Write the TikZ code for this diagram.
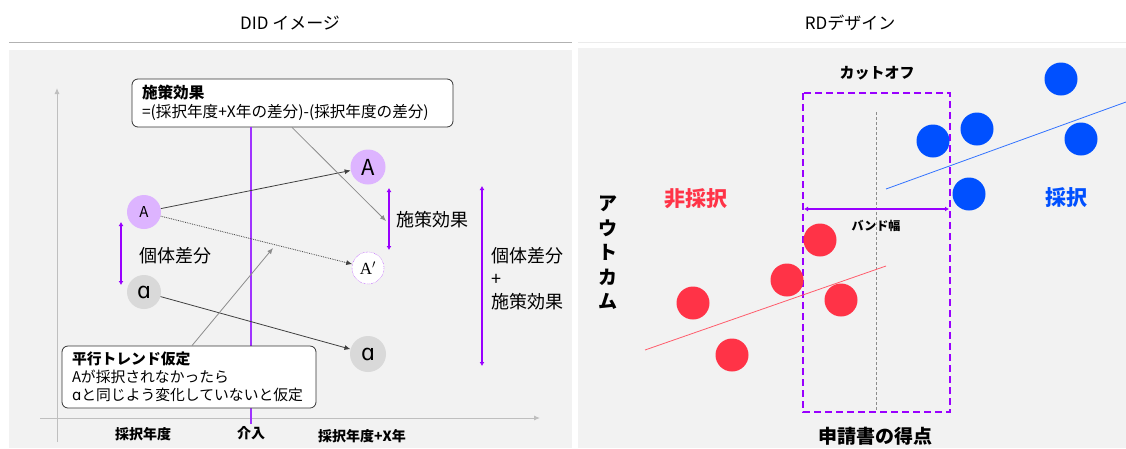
\documentclass[tikz,border=0pt]{standalone}
\usepackage{fontspec}
\setmainfont{Noto Sans CJK JP}
\newfontfamily\serifA{Liberation Serif}
\newfontfamily\dvs{DejaVu Sans}
\usetikzlibrary{arrows.meta}
\definecolor{panelbg}{HTML}{F2F2F2}
\definecolor{lpurple}{HTML}{DDB4FF}
\definecolor{vpurple}{HTML}{9900FF}
\definecolor{ipurple}{HTML}{A033FF}
\definecolor{ngray}{HTML}{D9D9D9}
\definecolor{axgray}{HTML}{BFBFBF}
\definecolor{dotblue}{HTML}{0050FF}
\definecolor{dotred}{HTML}{FF3347}
\newcommand\fsz[2]{\fontsize{#1}{#2}\selectfont}
\newcommand\alp{{\dvs ɑ}}
\tikzset{
  pnode/.style={circle,fill=lpurple,minimum size=34,inner sep=0},
  gnode/.style={circle,fill=ngray,minimum size=34,inner sep=0},
  wnode/.style={circle,fill=white,draw=vpurple,densely dotted,minimum size=32,inner sep=0},
  callout/.style={draw=black!80,rounded corners=6,fill=white,align=left,inner sep=0,line width=0.8},
  conn/.style={draw=black!75,line width=0.8,-{Latex[length=6,width=5]}},
  gconn/.style={draw=black!45,line width=0.8,-{Latex[length=6,width=5]}},
  bracket/.style={draw=vpurple,line width=2.8,{Latex[length=4,width=5]}-{Latex[length=4,width=5]}},
  axis/.style={draw=axgray,line width=1,-{Latex[length=6,width=5]}},
  bdot/.style={circle,fill=dotblue,minimum size=33,inner sep=0},
  rdot/.style={circle,fill=dotred,minimum size=33,inner sep=0},
  lbl/.style={inner sep=0,font=\fsz{18}{22}},
  axlbl/.style={inner sep=0,font=\bfseries\fsz{14}{16}}
}
\begin{document}
\begin{tikzpicture}[x=1pt,y=-1pt]
\useasboundingbox (0,0) rectangle (1126,448);
\fill[white] (0,0) rectangle (1126,448);
% panels
\fill[panelbg] (9,50) rectangle (572,448);
\fill[panelbg] (578,48) rectangle (1126,448);
\draw[black!30,line width=0.8] (9,42) -- (572,42);
\draw[black!8,line width=0.8] (578,42) -- (1126,42);
\node[inner sep=0,font=\fsz{17}{20}] (t1) at (290,23) {DID イメージ};
\node[inner sep=0,font=\fsz{17}{20}] (t2) at (850,23) {RDデザイン};

% ---------- DID ----------
\coordinate (yb) at (57,442); \coordinate (yt) at (57,88);
\coordinate (xl) at (40,418); \coordinate (xr) at (540,418);
\draw[axis] (yb) -- (yt);
\draw[axis] (xl) -- (xr);

\node[callout,minimum width=321,minimum height=48,text width=301,font=\fsz{15.6}{19}] (box1) at (292.5,103)
  {\textbf{施策効果}\\=(採択年度+X年の差分)-(採択年度の差分)};
\coordinate (ix) at (251,0);
\coordinate (ib) at (251,424);
\draw[draw=ipurple,line width=1.4] (box1.south -| ix) -- (ib);

\node[pnode,font=\fsz{15}{16}] (A1) at (144,212) {A};
\node[gnode,font=\fsz{22}{22}] (a1) at (144,292) {\alp};
\node[pnode,minimum size=35,font=\fsz{22}{22}] (A2) at (368,167) {A};
\node[wnode,font=\fsz{17}{16}] (A3) at (368,268) {\serifA A$'$};
\node[gnode,minimum size=36,font=\fsz{22}{22}] (a2) at (368,354) {\alp};

\draw[conn] (A1) -- (A2);
\draw[conn,densely dotted] (A1) -- (A3);
\draw[conn] (a1) -- (a2);

\coordinate (b1t) at (121,222); \coordinate (b1b) at (121,285);
\coordinate (b2t) at (389,188); \coordinate (b2b) at (389,250);
\coordinate (b3t) at (482,186); \coordinate (b3b) at (482,366);
\draw[bracket] (b1t) -- (b1b);
\draw[bracket] (b2t) -- (b2b);
\draw[bracket] (b3t) -- (b3b);
\node[lbl,anchor=west] (l1) at (139,256) {個体差分};
\node[lbl,anchor=west] (l2) at (396,220) {施策効果};
\node[lbl,anchor=west,align=left,font=\fsz{18}{23}] (l3) at (491,279) {個体差分\\+\\施策効果};

\coordinate (s1x) at (292,0);
\coordinate (e1) at (386,221);
\draw[gconn] (box1.south -| s1x) -- (e1);

\node[callout,minimum width=254,minimum height=62,text width=234,font=\fsz{14.8}{18}] (box2) at (189,377)
  {\textbf{平行トレンド仮定}\\Aが採択されなかったら\\\alp と同じよう変化していないと仮定};
\coordinate (s2x) at (192,0);
\coordinate (e2) at (273,248);
\draw[gconn] (box2.north -| s2x) -- (e2);

\node[axlbl] (x1) at (143,434) {採択年度};
\node[axlbl] (x2) at (251,433) {介入};
\node[axlbl] (x3) at (362,436) {採択年度+X年};

% ---------- RD ----------
\node[inner sep=0,font=\bfseries\fsz{15}{18}] (cut) at (877,73) {カットオフ};
\draw[vpurple,line width=2.5,dash pattern=on 7 off 4] (803,93) rectangle (950,412);
\coordinate (ct) at (876,112); \coordinate (cb) at (876,410);
\draw[black!45,line width=0.7,dash pattern=on 3 off 2] (ct) -- (cb);
\coordinate (bl) at (804,209); \coordinate (br) at (949,209);
\draw[bracket,line width=2.5] (bl) -- (br);
\node[inner sep=0,font=\bfseries\fsz{12}{14}] (band) at (876,226) {バンド幅};

\coordinate (bls) at (886,189); \coordinate (ble) at (1126,102);
\draw[dotblue!80,line width=0.8] (bls) -- (ble);
\coordinate (rls) at (645,350); \coordinate (rle) at (886,266);
\draw[dotred!80,line width=0.8] (rls) -- (rle);

\node[bdot] (B1) at (1061,79) {};
\node[bdot] (B2) at (977,129) {};
\node[bdot] (B3) at (933,141) {};
\node[bdot] (B4) at (1081,139) {};
\node[bdot] (B5) at (969,194) {};
\node[rdot] (R1) at (820,240) {};
\node[rdot] (R2) at (787,280) {};
\node[rdot] (R3) at (841,300) {};
\node[rdot] (R4) at (693,303) {};
\node[rdot] (R5) at (732,355) {};

\node[inner sep=0,font=\bfseries\fsz{21}{22},text=dotred] (nsel) at (696,199) {非採択};
\node[inner sep=0,font=\bfseries\fsz{21}{22},text=dotblue] (sel) at (1066,198) {採択};
\node[inner sep=0,font=\bfseries\fsz{19}{24.5},align=center] (out) at (608,253) {ア\\ウ\\ト\\カ\\ム};
\node[inner sep=0,font=\bfseries\fsz{19}{22}] (score) at (875,436) {申請書の得点};
\end{tikzpicture}
\end{document}
